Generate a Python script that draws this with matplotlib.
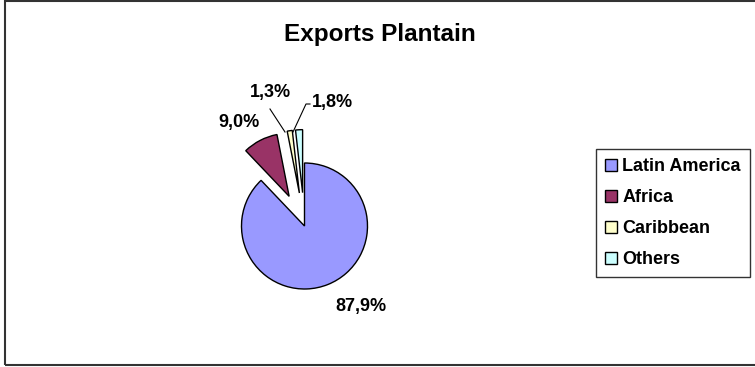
import matplotlib.pyplot as plt
import matplotlib.patches as patches
import numpy as np

plt.rcParams['font.family'] = ['Liberation Sans', 'DejaVu Sans']

regions = ['Latin America', 'Africa', 'Caribbean', 'Others']
shares = [87.9, 9.0, 1.3, 1.8]
colors = ['#9999FF', '#993366', '#FFFFCC', '#CCFFFF']

W, H = 755, 367
fig = plt.figure(figsize=(W / 100, H / 100), dpi=100)
ax = fig.add_axes([0, 0, 1, 1])

cx, cy, r = 304.5, H - 226, 63
# explode is in data units here (pixels), about half the radius
wedges, _ = ax.pie(shares, colors=colors, startangle=90, counterclock=False,
                   explode=[0, 0.53 * r, 0.53 * r, 0.53 * r], center=(cx, cy), radius=r,
                   wedgeprops=dict(edgecolor='black', linewidth=1.0))
ax.set_xlim(0, W)
ax.set_ylim(0, H)
ax.set_aspect('equal')
ax.axis('off')

# data labels (pixel positions from the picture, y measured from top)
label_pos = [(361, 306), (239, 122), (270, 92), (332, 102)]
for v, (x, y) in zip(shares, label_pos):
    txt = f'{v:.1f}'.replace('.', ',') + '%'
    ax.text(x, H - y, txt, ha='center', va='center', fontsize=13, fontweight='bold')

# leader lines for the two small slices
ax.plot([270, 285], [H - 109, H - 132], color='black', lw=0.8)
ax.plot([310, 306, 293], [H - 104, H - 104, H - 132], color='black', lw=0.8)

ax.text(380, H - 34, 'Exports Plantain', ha='center', va='center',
        fontsize=17.5, fontweight='bold')

leg = ax.legend(wedges, regions, loc='upper left',
                bbox_to_anchor=(596 / W, 1 - 149 / H), bbox_transform=fig.transFigure,
                borderaxespad=0, fancybox=False, frameon=True,
                prop=dict(size=13, weight='bold'),
                handlelength=0.65, handleheight=0.65, handletextpad=0.3,
                labelspacing=0.78, borderpad=0.5)
leg.get_frame().set_edgecolor('black')
leg.get_frame().set_linewidth(1.0)

ax.add_patch(patches.Rectangle((5, 2), W, H - 3, fill=False, edgecolor='#333333',
                               linewidth=1.5, clip_on=False))

fig.savefig('out.png', dpi=100)
